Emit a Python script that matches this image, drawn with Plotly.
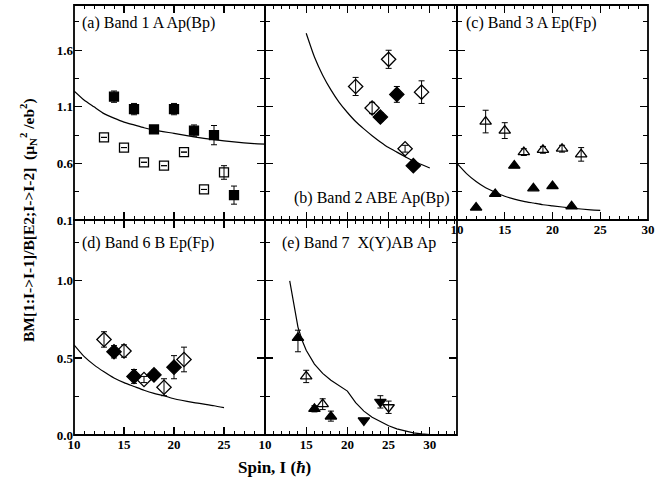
import plotly.graph_objects as go

# ---------------- data ----------------
# (a) Band 1 A Ap(Bp)
a_fill_spin = [14, 16, 18, 20, 22, 24, 26]
a_fill_val = [1.19, 1.08, 0.90, 1.08, 0.89, 0.85, 0.32]
a_fill_err = [0.05, 0.05, 0.02, 0.05, 0.05, 0.085, 0.08]
a_open_spin = [13, 15, 17, 19, 21, 23, 25]
a_open_val = [0.83, 0.74, 0.61, 0.58, 0.70, 0.37, 0.52]
a_open_err = [0.0, 0.0, 0.0, 0.0, 0.0, 0.0, 0.06]
a_curve_spin = [10, 11, 12, 13, 14, 15, 16, 17, 18, 20, 22, 24, 26, 28, 29.2]
a_curve_val = [1.24, 1.16, 1.10, 1.04, 1.00, 0.965, 0.94, 0.915, 0.895, 0.865, 0.835, 0.81, 0.79, 0.775, 0.77]

# (b) Band 2 ABE Ap(Bp)
b_open_spin = [21, 23, 25, 27, 29]
b_open_val = [1.28, 1.09, 1.52, 0.73, 1.23]
b_open_err = [0.08, 0.05, 0.08, 0.03, 0.10]
b_fill_spin = [24, 26, 28]
b_fill_val = [1.01, 1.21, 0.58]
b_fill_err = [0.04, 0.07, 0.02]
b_curve_spin = [15, 16, 17, 18, 19, 20, 21, 22, 23, 24, 25, 26, 27, 28, 29, 30]
b_curve_val = [1.75, 1.54, 1.38, 1.25, 1.14, 1.05, 0.97, 0.905, 0.845, 0.79, 0.74, 0.70, 0.66, 0.62, 0.59, 0.56]

# (c) Band 3 A Ep(Fp)
c_open_spin = [13, 15, 17, 19, 21, 23]
c_open_val = [0.97, 0.89, 0.70, 0.72, 0.73, 0.68]
c_open_err = [0.10, 0.07, 0.03, 0.03, 0.03, 0.06]
c_fill_spin = [12, 14, 16, 18, 20, 22]
c_fill_val = [0.21, 0.33, 0.58, 0.38, 0.40, 0.22]
c_curve_spin = [10, 11, 12, 13, 14, 15, 16, 17, 18, 19, 20, 22, 24, 25]
c_curve_val = [0.60, 0.51, 0.44, 0.385, 0.345, 0.31, 0.285, 0.265, 0.25, 0.235, 0.225, 0.205, 0.19, 0.185]

# (d) Band 6 B Ep(Fp)
d_open_spin = [13, 15, 17, 19, 21]
d_open_val = [0.62, 0.545, 0.36, 0.31, 0.49]
d_open_err = [0.05, 0.04, 0.02, 0.055, 0.08]
d_fill_spin = [14, 16, 18, 20]
d_fill_val = [0.54, 0.38, 0.39, 0.44]
d_fill_err = [0.04, 0.045, 0.03, 0.075]
d_curve_spin = [10, 11, 12, 13, 14, 15, 16, 17, 18, 19, 20, 22, 24, 25]
d_curve_val = [0.585, 0.51, 0.455, 0.41, 0.37, 0.34, 0.315, 0.29, 0.27, 0.255, 0.235, 0.21, 0.19, 0.178]

# (e) Band 7 X(Y)AB Ap
e_upfill_spin = [14, 16, 18]
e_upfill_val = [0.63, 0.17, 0.12]
e_upfill_errp = [0.05, 0.02, 0.035]
e_upfill_errm = [0.09, 0.02, 0.03]
e_upopen_spin = [15, 17]
e_upopen_val = [0.38, 0.20]
e_upopen_err = [0.04, 0.035]
e_dnfill_spin = [22, 24]
e_dnfill_val = [0.095, 0.215]
e_dnfill_err = [0.0, 0.04]
e_dnopen_spin = [25]
e_dnopen_val = [0.18]
e_dnopen_err = [0.04]
e_curve_spin = [13, 13.5, 14, 14.5, 15, 16, 17, 18, 19, 20, 21, 22, 23, 24, 25, 26, 27, 28, 29, 30]
e_curve_val = [1.0, 0.84, 0.70, 0.615, 0.55, 0.46, 0.40, 0.355, 0.32, 0.285, 0.21, 0.155, 0.115, 0.085, 0.06, 0.04, 0.025, 0.014, 0.007, 0.003]

panel_labels = ["(a) Band 1 A Ap(Bp)", "(b) Band 2 ABE Ap(Bp)", "(c) Band 3 A Ep(Fp)",
                "(d) Band 6 B Ep(Fp)", "(e) Band 7  X(Y)AB Ap"]

# ---------------- figure ----------------
W, H = 669, 491
FONT = "Liberation Serif, Times New Roman, serif"
fig = go.Figure()


def px_x(p):
    return p / W


def px_y(p):
    return 1 - p / H


def add_marks(xs, ys, axis, symbol, size, err=None, errm=None, lw=1.3):
    n = "" if axis == 1 else str(axis)
    ey = None
    if err is not None:
        ey = dict(type="data", array=err, arrayminus=errm if errm is not None else err,
                  color="black", thickness=1, width=3, visible=True)
    fig.add_trace(go.Scatter(
        x=xs, y=ys, mode="markers", xaxis="x" + n, yaxis="y" + n,
        marker=dict(symbol=symbol, size=size, color="black",
                    line=dict(color="black", width=lw)),
        error_y=ey, showlegend=False, cliponaxis=False))


def add_curve(xs, ys, axis, spline=True):
    n = "" if axis == 1 else str(axis)
    line = dict(color="black", width=1.2)
    if spline:
        line.update(shape="spline", smoothing=0.5)
    fig.add_trace(go.Scatter(x=xs, y=ys, mode="lines", xaxis="x" + n, yaxis="y" + n,
                             line=line, showlegend=False, hoverinfo="skip"))


# panel a
add_curve(a_curve_spin, a_curve_val, 1)
add_marks(a_open_spin, a_open_val, 1, "square-open", 9, a_open_err)
add_marks(a_fill_spin, a_fill_val, 1, "square", 9, a_fill_err)
# panel b
add_curve(b_curve_spin, b_curve_val, 2)
add_marks(b_open_spin, b_open_val, 2, "diamond-open", 11, b_open_err)
add_marks(b_fill_spin, b_fill_val, 2, "diamond", 11, b_fill_err)
# panel c
add_curve(c_curve_spin, c_curve_val, 3)
add_marks(c_open_spin, c_open_val, 3, "triangle-up-open", 10, c_open_err)
add_marks(c_fill_spin, c_fill_val, 3, "triangle-up", 10)
# panel d
add_curve(d_curve_spin, d_curve_val, 4)
add_marks(d_open_spin, d_open_val, 4, "diamond-open", 11, d_open_err)
add_marks(d_fill_spin, d_fill_val, 4, "diamond", 11, d_fill_err)
# panel e
add_curve(e_curve_spin, e_curve_val, 5, spline=False)
add_marks(e_upopen_spin, e_upopen_val, 5, "triangle-up-open", 10, e_upopen_err)
add_marks(e_upfill_spin, e_upfill_val, 5, "triangle-up", 10, e_upfill_errp, e_upfill_errm)
add_marks(e_dnopen_spin, e_dnopen_val, 5, "triangle-down-open", 10, e_dnopen_err)
add_marks(e_dnfill_spin, e_dnfill_val, 5, "triangle-down", 10, e_dnfill_err)

# panel pixel boxes (left, right, top, bottom)
boxes = {
    1: (74, 265, 5, 220),
    2: (265, 457, 5, 220),
    3: (457, 648, 5, 220),
    4: (74, 265, 220, 435),
    5: (265, 457, 220, 435),
}
xranges = {1: [10, 29.1], 2: [10, 33.3], 3: [10, 30], 4: [10, 29.1], 5: [10, 33.3]}
yranges = {1: [0.1, 2.0], 2: [0.1, 2.0], 3: [0.1, 2.0], 4: [0, 1.395], 5: [0, 1.395]}
show_xlab = {1: False, 2: False, 3: True, 4: True, 5: True}
show_ylab = {1: True, 2: False, 3: False, 4: True, 5: False}

tickfont = dict(family=FONT, size=13, color="black", weight="bold")
layout_axes = {}
shapes = []
for i, (l, r, t, b) in boxes.items():
    n = "" if i == 1 else str(i)
    top_row = i <= 3
    layout_axes["xaxis" + n] = dict(
        domain=[px_x(l), px_x(r)], range=xranges[i], anchor="y" + n, automargin=False,
        showgrid=False, zeroline=False, showline=False,
        mirror="ticks", ticks="inside", ticklen=8, tickwidth=1.2, tickcolor="black",
        tickmode="linear", tick0=10, dtick=5, showticklabels=show_xlab[i],
        tickfont=tickfont,
        minor=dict(ticks="inside", ticklen=4, tickwidth=1, tickcolor="black",
                   tickmode="linear", tick0=10, dtick=1, showgrid=False),
    )
    layout_axes["yaxis" + n] = dict(
        domain=[px_y(b), px_y(t)], range=yranges[i], anchor="x" + n, automargin=False,
        showgrid=False, zeroline=False, showline=False,
        mirror="ticks", ticks="inside", ticklen=8, tickwidth=1.2, tickcolor="black",
        tickmode="linear", tick0=0.1 if top_row else 0.0, dtick=0.5,
        tickformat=".1f", showticklabels=show_ylab[i], tickfont=tickfont,
        minor=dict(ticks="inside", ticklen=5, tickwidth=1, tickcolor="black",
                   tickmode="linear", tick0=0.1 if top_row else 0.0, dtick=0.25,
                   showgrid=False),
    )
    shapes.append(dict(type="rect", xref="paper", yref="paper",
                       x0=px_x(l), x1=px_x(r), y0=px_y(b), y1=px_y(t),
                       line=dict(color="black", width=1.8), layer="above"))

annots = []
lab_font = dict(family=FONT, size=16, color="black")
annots.append(dict(text=panel_labels[0], x=px_x(80), y=px_y(23), xref="paper", yref="paper",
                   xanchor="left", yanchor="middle", showarrow=False, font=lab_font))
annots.append(dict(text=panel_labels[1], x=px_x(452), y=px_y(198), xref="paper", yref="paper",
                   xanchor="right", yanchor="middle", showarrow=False, font=lab_font))
annots.append(dict(text=panel_labels[2], x=px_x(464), y=px_y(23), xref="paper", yref="paper",
                   xanchor="left", yanchor="middle", showarrow=False, font=lab_font))
annots.append(dict(text=panel_labels[3], x=px_x(80), y=px_y(243), xref="paper", yref="paper",
                   xanchor="left", yanchor="middle", showarrow=False, font=lab_font))
annots.append(dict(text=panel_labels[4], x=px_x(280), y=px_y(243), xref="paper", yref="paper",
                   xanchor="left", yanchor="middle", showarrow=False, font=lab_font))
# axis titles
annots.append(dict(text="BM[1:I->I-1]/B[E2;I->I-2]  (μ<sub>N</sub><sup>2</sup> /eb<sup>2</sup>)",
                   x=px_x(28), y=px_y(220), xref="paper", yref="paper", textangle=-90,
                   xanchor="center", yanchor="middle", showarrow=False,
                   font=dict(family=FONT, size=15.5, color="black", weight="bold")))
annots.append(dict(text="Spin, I (<i>ħ</i>)", x=px_x(274), y=px_y(467), xref="paper", yref="paper",
                   xanchor="center", yanchor="middle", showarrow=False,
                   font=dict(family=FONT, size=17, color="black", weight="bold")))

fig.update_layout(
    width=W, height=H, margin=dict(l=0, r=0, t=0, b=0, autoexpand=False),
    paper_bgcolor="white", plot_bgcolor="white",
    annotations=annots, shapes=shapes, showlegend=False, **layout_axes)

fig.write_html("out.html", config={"displayModeBar": False, "staticPlot": True},
               post_script="document.body.style.margin='0';document.body.style.overflow='hidden';")
